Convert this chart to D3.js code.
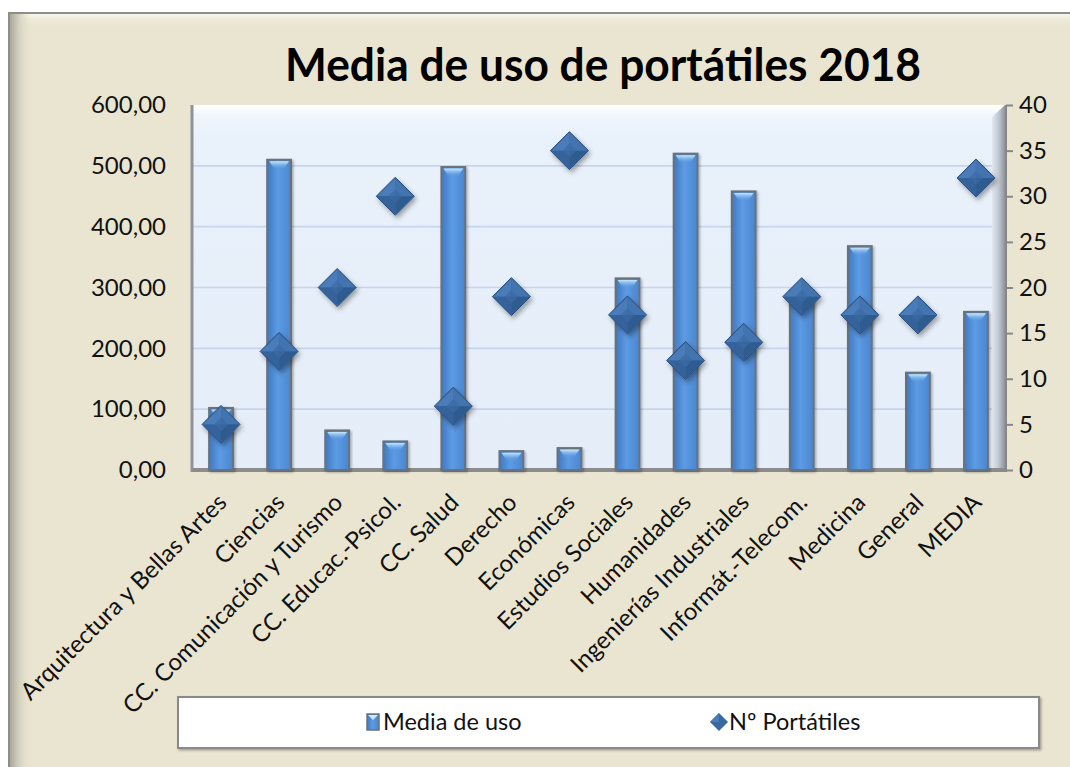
<!DOCTYPE html>
<html><head><meta charset="utf-8">
<script src="https://cdn.jsdelivr.net/npm/d3@7"></script>
<style>html,body{margin:0;padding:0;background:#fff;}svg{display:block;}</style>
</head><body>
<svg id="c" width="1070" height="767"></svg>
<script>
const categories = ["Arquitectura y Bellas Artes","Ciencias","CC. Comunicación y Turismo","CC. Educac.-Psicol.","CC. Salud","Derecho","Económicas","Estudios Sociales","Humanidades","Ingenierías Industriales","Informát.-Telecom.","Medicina","General","MEDIA"];
const mediaUso = [102, 510, 65, 47, 498, 31, 36, 315, 520, 458, 295, 368, 160, 260];
const portatiles = [5, 13, 20, 30, 7, 19, 35, 17, 12, 14, 19, 17, 17, 32];
const leftTicks = [0, 100, 200, 300, 400, 500, 600];
const leftTickLabels = ["0,00","100,00","200,00","300,00","400,00","500,00","600,00"];
const rightTicks = [0, 5, 10, 15, 20, 25, 30, 35, 40];
const rightTickLabels = ["0","5","10","15","20","25","30","35","40"];
const seriesNames = ["Media de uso", "Nº Portátiles"];
const titleText = "Media de uso de portátiles 2018";

const svg = d3.select("#c");
const W = 1070, H = 767;
const P = {l: 192, r: 1005, t: 105, b: 470};
const FONT = "Lato, 'Open Sans', sans-serif";

const defs = svg.append("defs");
function lin(id, x2, y2, stops){
  const g = defs.append("linearGradient").attr("id", id).attr("x1",0).attr("y1",0).attr("x2",x2).attr("y2",y2);
  stops.forEach(s => g.append("stop").attr("offset", s[0]).attr("stop-color", s[1]).attr("stop-opacity", s[2] === undefined ? 1 : s[2]));
}
lin("leftShade", 1, 0, [[0,"#a9a798"],[0.35,"#cfccbb"],[1,"#e9e5d1",0]]);
lin("topShade", 0, 1, [[0,"#f8f6ec"],[1,"#e9e5d1",0]]);
lin("plotBg", 0, 1, [[0,"#f4f8fd"],[0.08,"#e9f1fb"],[1,"#e4edf8"]]);
lin("rightWall", 1, 0, [[0,"#e2e8f1"],[0.5,"#c2c8d2"],[1,"#8e939b"]]);
lin("topBevel", 0, 1, [[0,"#ffffff"],[1,"#ffffff",0]]);
lin("barGrad", 1, 0, [[0,"#3e79c3"],[0.45,"#5d9be3"],[1,"#4a86d1"]]);
lin("capGrad", 0, 1, [[0,"#c9ecfc"],[1,"#5d9be3",0.2]]);
const f = defs.append("filter").attr("id","ds").attr("x","-30%").attr("y","-30%").attr("width","170%").attr("height","170%");
f.append("feDropShadow").attr("dx",2).attr("dy",3).attr("stdDeviation",2.5).attr("flood-color","#000").attr("flood-opacity",0.35);
const f2 = defs.append("filter").attr("id","ds2").attr("x","-10%").attr("y","-10%").attr("width","120%").attr("height","130%");
f2.append("feDropShadow").attr("dx",1.5).attr("dy",1.5).attr("stdDeviation",1.2).attr("flood-color","#000").attr("flood-opacity",0.3);

// Frame
svg.append("rect").attr("x",0).attr("y",0).attr("width",W).attr("height",H).attr("fill","#ffffff");
svg.append("rect").attr("x",9).attr("y",13).attr("width",W).attr("height",H).attr("fill","#e9e5d1").attr("stroke","#8d8d8d").attr("stroke-width",2);
svg.append("rect").attr("x",10).attr("y",14).attr("width",W).attr("height",14).attr("fill","url(#topShade)");
svg.append("rect").attr("x",10).attr("y",14).attr("width",22).attr("height",H).attr("fill","url(#leftShade)");

// Scales
const x = d3.scaleBand().domain(categories).range([P.l, P.r]).padding(0);
const yL = d3.scaleLinear().domain([0, 600]).range([P.b, P.t]);
const yR = d3.scaleLinear().domain([0, 40]).range([P.b, P.t]);
const bw = x.bandwidth() * 0.41;

// Plot area
svg.append("rect").attr("x",P.l).attr("y",P.t).attr("width",P.r-P.l).attr("height",P.b-P.t).attr("fill","url(#plotBg)");
svg.append("rect").attr("x",P.l).attr("y",P.t).attr("width",P.r-P.l).attr("height",10).attr("fill","url(#topBevel)");
svg.append("path").attr("d",`M${P.r-13},${P.t+12} L${P.r},${P.t} L${P.r},${P.b} L${P.r-13},${P.b} Z`).attr("fill","url(#rightWall)");

// Gridlines
svg.append("g").selectAll("line").data(leftTicks.filter(d => d > 0 && d < 600)).join("line")
  .attr("x1",P.l).attr("x2",P.r-13).attr("y1",d=>yL(d)).attr("y2",d=>yL(d))
  .attr("stroke","#c7d4ee").attr("stroke-width",1.6);

// Axis lines
svg.append("line").attr("x1",P.l).attr("x2",P.l).attr("y1",P.t).attr("y2",P.b+2).attr("stroke","#8f9297").attr("stroke-width",3);
svg.append("line").attr("x1",P.l).attr("x2",P.r).attr("y1",P.b).attr("y2",P.b).attr("stroke","#8c8c8c").attr("stroke-width",4);
svg.append("line").attr("x1",P.r+1).attr("x2",P.r+1).attr("y1",P.t).attr("y2",P.b+2).attr("stroke","#888").attr("stroke-width",2);

// Left axis labels
const leftAxis = d3.axisLeft(yL).tickValues(leftTicks).tickFormat((d,i)=>leftTickLabels[i]).tickSize(0).tickPadding(26);
const gl = svg.append("g").attr("transform",`translate(${P.l},0)`).call(leftAxis);
gl.select(".domain").remove();
gl.selectAll("text").attr("font-family",FONT).attr("font-size",24).attr("fill","#111");

// Right axis
const rightAxis = d3.axisRight(yR).tickValues(rightTicks).tickFormat((d,i)=>rightTickLabels[i]).tickSize(7).tickPadding(6);
const gr = svg.append("g").attr("transform",`translate(${P.r+1},0)`).call(rightAxis);
gr.select(".domain").remove();
gr.selectAll("line").attr("stroke","#888").attr("stroke-width",2);
gr.selectAll("text").attr("font-family",FONT).attr("font-size",24).attr("fill","#111");

// Bars
const bars = svg.append("g").attr("filter","url(#ds2)");
const bg = bars.selectAll("g").data(categories).join("g");
bg.append("rect")
  .attr("x",d=>x(d)+(x.bandwidth()-bw)/2).attr("width",bw)
  .attr("y",(d,i)=>yL(mediaUso[i])).attr("height",(d,i)=>P.b-yL(mediaUso[i]))
  .attr("fill","url(#barGrad)").attr("stroke","#68717b").attr("stroke-width",2);
bg.append("path").attr("d",(d,i)=>{
  const x0 = x(d)+(x.bandwidth()-bw)/2, t = yL(mediaUso[i]), c = x0+bw/2;
  return `M${x0+2},${t+1.5} L${x0+bw-2},${t+1.5} L${c+5},${t+9} L${c-5},${t+9} Z`;
}).attr("fill","url(#capGrad)");

// Diamonds
const s = 19;
const dg = svg.append("g").selectAll("g").data(categories).join("g")
  .attr("transform",(d,i)=>`translate(${x(d)+x.bandwidth()/2},${yR(portatiles[i])})`)
  .attr("filter","url(#ds)");
dg.append("path").attr("d",`M0,${-s} L${s},0 L0,${s} L${-s},0 Z`).attr("fill","#3a69a2").attr("stroke","#2c4f7c").attr("stroke-width",1);
dg.append("path").attr("d",`M0,${-s+1} L${-s+1},0 L0,0 Z`).attr("fill","#4a7cb9");
dg.append("path").attr("d",`M0,${-s+1} L${s-1},0 L0,0 Z`).attr("fill","#4274b0");
dg.append("path").attr("d",`M0,${s-1} L${s-1},0 L0,0 Z`).attr("fill","#2f5b90");
dg.append("path").attr("d",`M0,${s-1} L${-s+1},0 L0,0 Z`).attr("fill","#34629a");
dg.append("path").attr("d",`M0,-7 L7,0 L0,7 L-7,0 Z`).attr("fill","#3b6aa4").attr("opacity",0.7);

// Category labels
svg.append("g").selectAll("text").data(categories).join("text")
  .attr("transform",d=>`translate(${x(d)+x.bandwidth()/2+7},${P.b+34}) rotate(-45)`)
  .attr("text-anchor","end")
  .attr("font-family",FONT).attr("font-size",24).attr("fill","#111")
  .text(d=>d);

// Title
svg.append("text").attr("x",603).attr("y",81).attr("text-anchor","middle")
  .attr("font-family",FONT).attr("font-weight","bold").attr("font-size",45).attr("fill","#000")
  .attr("textLength",636).attr("lengthAdjust","spacingAndGlyphs")
  .text(titleText);

// Legend
const lg = svg.append("g");
lg.append("rect").attr("x",178).attr("y",697).attr("width",861).attr("height",51)
  .attr("fill","#fff").attr("stroke","#8a8a8a").attr("stroke-width",2).attr("filter","url(#ds2)");
const l1 = lg.append("g").attr("transform","translate(367,722)");
l1.append("rect").attr("x",0).attr("y",-8).attr("width",12).attr("height",16).attr("fill","url(#barGrad)").attr("stroke","#68717b").attr("stroke-width",1.5);
l1.append("path").attr("d","M1,-7 L11,-7 L6,-2 Z").attr("fill","#c9ecfc");
l1.append("text").attr("x",16).attr("y",8).attr("font-family",FONT).attr("font-size",23.5).attr("fill","#111").text(seriesNames[0]);
const l2 = lg.append("g").attr("transform","translate(719,722)");
l2.append("path").attr("d","M0,-9 L9,0 L0,9 L-9,0 Z").attr("fill","#3a69a2");
l2.append("path").attr("d","M0,-9 L-9,0 L0,0 Z").attr("fill","#4a7cb9");
l2.append("text").attr("x",10).attr("y",8).attr("font-family",FONT).attr("font-size",23.5).attr("fill","#111").text(seriesNames[1]);
</script>
</body></html>
